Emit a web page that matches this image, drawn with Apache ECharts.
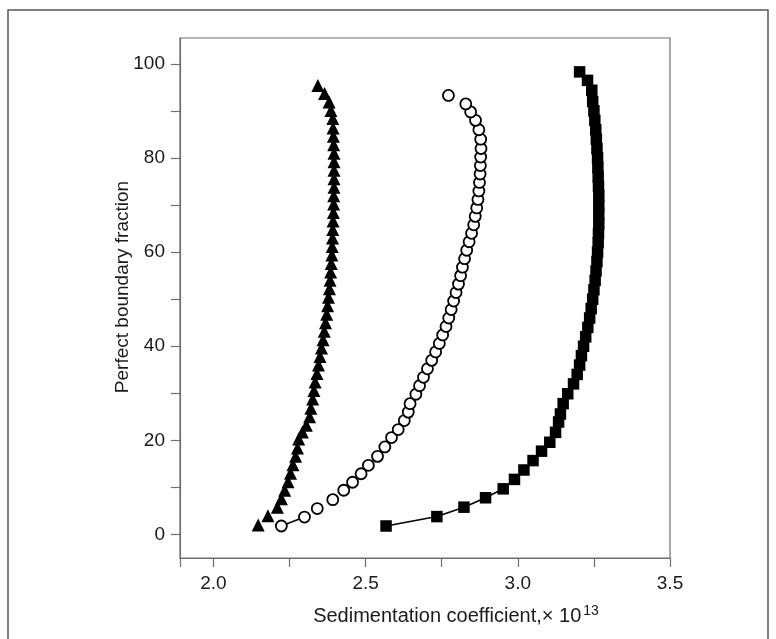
<!DOCTYPE html>
<html>
<head>
<meta charset="utf-8">
<script src="https://cdn.jsdelivr.net/npm/echarts@6/dist/echarts.min.js"></script>
<style>
html,body{margin:0;padding:0;background:#fff;}
#chart{width:776px;height:639px;}
</style>
</head>
<body>
<div id="chart"></div>
<script>
// Triangles (filled)
const triY = [2,4,5.8,7.6,9.4,11.2,13,14.8,16.6,18.4,20.3,21.8,23.2,25,26.8,28.8,30.6,32.4,34.2,36,37.8,39.6,41.4,43.2,45,46.8,48.6,50.4,52.2,54,55.8,57.6,59.4,61.2,63,64.8,66.6,68.4,70.2,72,73.8,75.6,77.4,79.2,81,82.8,84.6,86.4,88.4,90.1,91.9,93.7,95.4];
const triX = [2.147,2.179,2.21,2.223,2.234,2.245,2.253,2.261,2.27,2.276,2.28,2.292,2.305,2.316,2.32,2.326,2.33,2.334,2.34,2.345,2.35,2.355,2.36,2.364,2.368,2.372,2.375,2.378,2.381,2.383,2.385,2.387,2.389,2.39,2.391,2.392,2.393,2.394,2.395,2.395,2.396,2.396,2.396,2.396,2.396,2.395,2.394,2.393,2.392,2.386,2.38,2.365,2.343];
// Circles (open)
const circY = [1.8,3.7,5.5,7.4,9.4,11.1,12.9,14.7,16.6,18.6,20.6,22.3,24.2,26,27.8,29.8,31.6,33.4,35.2,37,38.8,40.6,42.4,44.2,46,47.8,49.6,51.4,53.2,55,56.8,58.6,60.4,62.2,64,65.8,67.6,69.4,71.2,73,74.8,76.6,78.4,80.2,82,84,86,88,89.8,91.5,93.3];
const circX = [2.223,2.299,2.341,2.392,2.428,2.457,2.485,2.509,2.539,2.563,2.585,2.607,2.627,2.64,2.646,2.665,2.677,2.69,2.703,2.717,2.73,2.742,2.753,2.764,2.773,2.781,2.789,2.797,2.805,2.812,2.818,2.825,2.832,2.84,2.848,2.855,2.86,2.865,2.869,2.872,2.874,2.876,2.877,2.878,2.879,2.878,2.872,2.861,2.845,2.829,2.772];
// Squares (filled)
const sqY = [1.8,3.8,5.8,7.8,9.7,11.7,13.7,15.7,17.7,19.6,21.7,23.9,25.6,27.8,29.9,32,34,36,38,40,42,44,46,48,50,52,54,56,58,60,62,64,66,68,70,72,74,76,78,80,82,84,86,88,90,92,94.4,96.5,98.3];
const sqX = [2.567,2.734,2.823,2.894,2.952,2.989,3.02,3.05,3.078,3.105,3.124,3.134,3.14,3.149,3.164,3.183,3.195,3.203,3.209,3.216,3.223,3.23,3.236,3.241,3.246,3.25,3.254,3.257,3.26,3.262,3.264,3.265,3.266,3.266,3.266,3.266,3.265,3.264,3.263,3.262,3.26,3.258,3.256,3.253,3.25,3.246,3.243,3.229,3.203];

const xTicks = [1.89,2.0,2.25,2.5,2.75,3.0,3.25,3.5];
const xLabels = [2.0,2.5,3.0,3.5];
const yTicks = [0,10,20,30,40,50,60,70,80,90,100];
const yLabels = [0,20,40,60,80,100];

const zip = (xs, ys) => xs.map((x, i) => [x, ys[i]]);
const tri = zip(triX, triY), circ = zip(circX, circY), sq = zip(sqX, sqY);

const axisGrey = '#6e6e6e';
const font = '"Liberation Sans", Arial, sans-serif';

const chart = echarts.init(document.getElementById('chart'), null, {renderer: 'canvas'});
chart.setOption({
  animation: false,
  backgroundColor: '#fff',
  grid: {left: 180, top: 38, right: 106, bottom: 81, show: true, borderColor: axisGrey, borderWidth: 1.2, backgroundColor: 'transparent'},
  graphic: [{
    type: 'rect', shape: {x: 8, y: 10, width: 760, height: 640},
    style: {fill: 'none', stroke: '#555', lineWidth: 1.5}, silent: true, z: -1
  }],
  xAxis: {
    type: 'value', min: 1.89, max: 3.5,
    splitLine: {show: false},
    axisLine: {show: true, onZero: false, lineStyle: {color: axisGrey, width: 1.2}},
    axisTick: {show: true, length: 9, lineStyle: {color: axisGrey, width: 1.2}, customValues: xTicks},
    axisLabel: {customValues: xLabels, formatter: v => v.toFixed(1), color: '#1a1a1a', fontSize: 19, fontFamily: font, margin: 16},
    name: '{a|Sedimentation coefficient,× 10}{b|13}',
    nameLocation: 'middle', nameGap: 46, nameMoveOverlap: false,
    nameTextStyle: {
      padding: [0, 0, 0, 62],
      rich: {
        a: {fontSize: 20, fontFamily: font, color: '#1a1a1a'},
        b: {fontSize: 14, fontFamily: font, color: '#1a1a1a', verticalAlign: 'top', padding: [0, 0, 10, 2]}
      }
    }
  },
  yAxis: {
    type: 'value', min: -5, max: 105.5,
    splitLine: {show: false},
    axisLine: {show: true, onZero: false, lineStyle: {color: axisGrey, width: 1.2}},
    axisTick: {show: true, length: 9, lineStyle: {color: axisGrey, width: 1.2}, customValues: yTicks},
    axisLabel: {customValues: yLabels, color: '#1a1a1a', fontSize: 19, fontFamily: font, margin: 15},
    name: 'Perfect boundary fraction', nameLocation: 'middle', nameGap: 48, nameMoveOverlap: false,
    nameTextStyle: {fontSize: 19, fontFamily: font, color: '#1a1a1a', padding: [0, 0, 0, 22]}
  },
  series: [
    {type: 'line', data: sq.slice(0, 5), showSymbol: false, symbol: 'none', lineStyle: {color: '#000', width: 1.6}, z: 1},
    {type: 'line', data: circ.slice(0, 2), showSymbol: false, symbol: 'none', lineStyle: {color: '#000', width: 1.6}, z: 1},
    {type: 'scatter', data: tri, symbol: 'triangle', symbolSize: 13, itemStyle: {color: '#000', opacity: 1}, z: 3},
    {type: 'scatter', data: circ, symbol: 'circle', symbolSize: 11, itemStyle: {color: '#fff', borderColor: '#000', borderWidth: 1.8, opacity: 1}, z: 3},
    {type: 'scatter', data: sq, symbol: 'rect', symbolSize: 11.5, itemStyle: {color: '#000', opacity: 1}, z: 3}
  ]
});
</script>
</body>
</html>
